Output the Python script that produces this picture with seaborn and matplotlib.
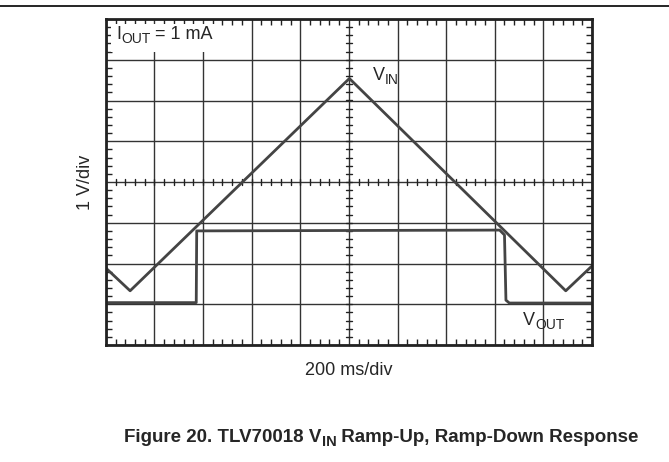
import numpy as np
import pandas as pd
import matplotlib
matplotlib.use("Agg")
import matplotlib.pyplot as plt
from matplotlib.lines import Line2D
from matplotlib.patches import Rectangle
from matplotlib.transforms import IdentityTransform
import seaborn as sns

# Data in scope divisions (x: 0-10 div, y: 0-8 div)
vin_t = [0.0, 0.50, 5.01, 9.46, 10.0]
vin_v = [1.89, 1.33, 6.54, 1.33, 1.94]
vout_t = [0.0, 1.86, 1.87, 8.10, 8.20, 8.23, 8.30, 10.0]
vout_v = [1.04, 1.04, 2.80, 2.82, 2.70, 1.10, 1.03, 1.03]

sns.set_style("white")
plt.rcParams['font.family'] = ['Liberation Sans', 'DejaVu Sans']

fig = plt.figure(figsize=(6.69, 4.62), dpi=100)
ax = fig.add_axes([105.8/669, 1-345/462, (592-105.8)/669, (345-19)/462])

df_in = pd.DataFrame({"t": vin_t, "v": vin_v})
df_out = pd.DataFrame({"t": vout_t, "v": vout_v})
sns.lineplot(data=df_in, x="t", y="v", ax=ax, color="#444444", lw=2.0, sort=False, estimator=None)
sns.lineplot(data=df_out, x="t", y="v", ax=ax, color="#444444", lw=2.0, sort=False, estimator=None)

ax.set_xlim(0, 10)
ax.set_ylim(0, 8)
ax.set_xticks(np.arange(0, 11))
ax.set_yticks(np.arange(0, 9))
ax.set_xticks(np.arange(0, 10.01, 0.2), minor=True)
ax.set_yticks(np.arange(0, 8.01, 0.2), minor=True)
ax.tick_params(which='major', length=0, labelbottom=False, labelleft=False)
ax.tick_params(which='minor', direction='in', length=4, width=1, color='#222222',
               top=True, right=True, bottom=True, left=True)
ax.grid(True, which='major', color='#333333', lw=1.0)
ax.set_axisbelow(True)
for s in ax.spines.values():
    s.set_linewidth(2.0)
    s.set_color('#222222')

# center cross ticks
for xt in np.arange(0.2, 10, 0.2):
    ax.plot([xt, xt], [4 - 0.07, 4 + 0.07], color='#222222', lw=1, zorder=1)
for yt in np.arange(0.2, 8, 0.2):
    ax.plot([5 - 0.06, 5 + 0.06], [yt, yt], color='#222222', lw=1, zorder=1)

# white label background for the I_OUT annotation
ax.add_patch(Rectangle((0.1, 7.18), 2.25, 0.7, facecolor='white', edgecolor='none', zorder=0.8))

ax.set_xlabel("200 ms/div", fontsize=13, labelpad=9)
ax.set_ylabel("1 V/div", fontsize=13, labelpad=5)

fig.canvas.draw()
renderer = fig.canvas.get_renderer()


def sub_text(x_px, y_px, base, sub, rest="", size=13, subsize=10, weight='normal', drop=4):
    """Place text at display pixel coords (y from top), with subscript."""
    Y = 462 - y_px
    t1 = fig.text(x_px, Y, base, transform=IdentityTransform(), fontsize=size,
                  fontweight=weight, va='baseline', ha='left', zorder=5)
    b1 = t1.get_window_extent(renderer)
    t2 = fig.text(b1.x1, Y - drop, sub, transform=IdentityTransform(), fontsize=subsize,
                  fontweight=weight, va='baseline', ha='left', zorder=5)
    b2 = t2.get_window_extent(renderer)
    if rest:
        t3 = fig.text(b2.x1, Y, rest, transform=IdentityTransform(), fontsize=size,
                      fontweight=weight, va='baseline', ha='left', zorder=5)
        b3 = t3.get_window_extent(renderer)
        return b1.x0, b3.x1
    return b1.x0, b2.x1


sub_text(116, 39, "I", "OUT", " = 1 mA")
sub_text(373, 80, "V", "IN")
sub_text(523, 325, "V", "OUT")

# title centered: measure then place
x0, x1 = sub_text(0, -100, "Figure 20. TLV70018 V", "IN", " Ramp-Up, Ramp-Down Response",
                  size=13.5, subsize=10.5, weight='bold', drop=4)
for t in list(fig.texts)[-3:]:
    t.remove()
w = x1 - x0
sub_text(381.5 - w / 2, 442, "Figure 20. TLV70018 V", "IN", " Ramp-Up, Ramp-Down Response",
         size=13.5, subsize=10.5, weight='bold', drop=4)

fig.add_artist(Line2D([0, 1], [1-6/462, 1-6/462], color='black', lw=1.2, transform=fig.transFigure))

fig.savefig("out.png", dpi=100)
